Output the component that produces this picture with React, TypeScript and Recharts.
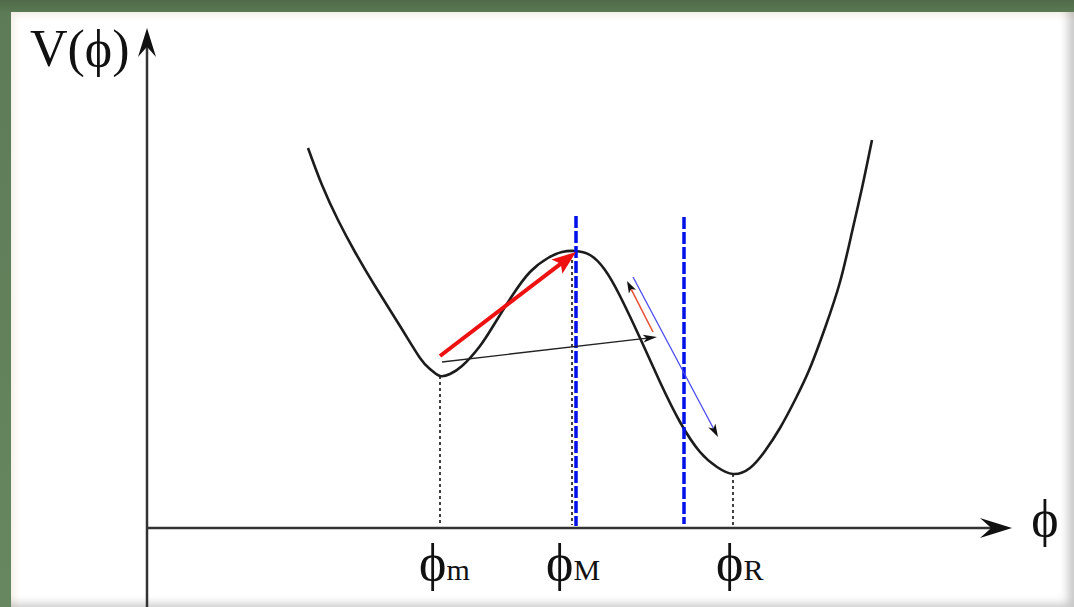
import React from 'react';
import { LineChart, Line, XAxis, YAxis, ReferenceLine, ReferenceDot } from 'recharts';

// Potential curve V(phi)
const curvePhi = [1.61, 1.75, 1.91, 2.08, 2.28, 2.53, 2.73, 2.83, 2.93, 3.03, 3.15, 3.33, 3.48, 3.65, 3.83, 4.01, 4.15, 4.28, 4.43, 4.58, 4.73, 4.93, 5.13, 5.33, 5.53, 5.7, 5.86, 6.03, 6.18, 6.33, 6.48, 6.63, 6.78, 6.93, 7.05, 7.15, 7.25];
const curveV = [3.8, 3.43, 3.08, 2.76, 2.42, 2.02, 1.7, 1.59, 1.52, 1.54, 1.62, 1.82, 2.05, 2.32, 2.56, 2.7, 2.76, 2.77, 2.73, 2.58, 2.32, 1.9, 1.46, 1.06, 0.76, 0.61, 0.54, 0.6, 0.77, 1.0, 1.28, 1.6, 2.0, 2.46, 2.96, 3.4, 3.88];

// Special field values
const phiMin = 2.93;
const phiMax = 4.25;
const phiR = 5.86;
const vMin = 1.52;
const vMax = 2.74;
const vR = 0.54;
const barrierPhi = [4.29, 5.37];
const barrierTop = [3.12, 3.11];

// Arrows: [start, end]
const redArrow = [{ x: 2.93, y: 1.72 }, { x: 4.29, y: 2.76 }];
const blackArrow = [{ x: 2.95, y: 1.66 }, { x: 5.1, y: 1.91 }];
const smallRedArrow = [{ x: 5.06, y: 1.96 }, { x: 4.8, y: 2.47 }];
const blueArrow = [{ x: 4.86, y: 2.51 }, { x: 5.71, y: 0.91 }];

const xDomain = [0, 8.65];
const yDomain = [-0.79, 5.0];

const data = curvePhi.map((p, i) => ({ phi: p, v: curveV[i] }));

const FONT = "'Liberation Serif', 'Times New Roman', 'DejaVu Serif', serif";
const PHI = '\u03D5';

type ArrowOpts = {
  color: string;
  width: number;
  headColor?: string;
  headLen?: number;
  headWidth?: number;
  notch?: number;
  dash?: string;
};

function arrowShape(o: ArrowOpts) {
  return (p: any) => {
    const x1 = Number(p.x1), y1 = Number(p.y1), x2 = Number(p.x2), y2 = Number(p.y2);
    const dx = x2 - x1, dy = y2 - y1;
    const L = Math.hypot(dx, dy) || 1;
    const ux = dx / L, uy = dy / L;
    const nx = -uy, ny = ux;
    const hl = o.headLen ?? 0;
    const hw = o.headWidth ?? 0;
    const notch = o.notch ?? 0;
    const bx = x2 - ux * hl, by = y2 - uy * hl;
    const mx = x2 - ux * hl * (1 - notch), my = y2 - uy * hl * (1 - notch);
    const pts = hl > 0
      ? `${x2},${y2} ${bx + nx * hw / 2},${by + ny * hw / 2} ${mx},${my} ${bx - nx * hw / 2},${by - ny * hw / 2}`
      : '';
    const ex = hl > 0 ? mx + ux * 1 : x2;
    const ey = hl > 0 ? my + uy * 1 : y2;
    return (
      <g>
        <line x1={x1} y1={y1} x2={ex} y2={ey} stroke={o.color} strokeWidth={o.width} strokeDasharray={o.dash} />
        {hl > 0 && <polygon points={pts} fill={o.headColor ?? o.color} stroke="none" />}
      </g>
    );
  };
}

function textShape(main: string, sub: string, anchor: 'start' | 'middle', mainSize = 52, subSize = 30) {
  return (p: any) => (
    <text x={p.cx} y={p.cy} textAnchor={anchor} fontFamily={FONT} fill="#111">
      <tspan fontSize={mainSize}>{main}</tspan>
      {sub && <tspan fontSize={subSize}>{sub}</tspan>}
    </text>
  );
}

export default function App() {
  return (
    <div
      style={{
        position: 'absolute',
        left: 0,
        top: 0,
        width: 1074,
        height: 607,
        overflow: 'hidden',
        background: 'linear-gradient(180deg, #4f6b49 0px, #5d7b57 14px, #66875f 100%)',
      }}
    >
      <div
        style={{
          position: 'absolute',
          left: 11,
          top: 12,
          width: 1063,
          height: 595,
          background: '#ffffff',
          boxShadow: 'inset -12px -9px 10px -6px rgba(0,0,0,0.22), inset 6px 6px 8px -4px rgba(230,220,200,0.6)',
        }}
      />
      <div style={{ position: 'absolute', left: 0, top: 0 }}>
        <LineChart
          width={1074}
          height={607}
          data={data}
          margin={{ top: 28, right: 62, bottom: 0, left: 147 }}
        >
          <XAxis type="number" dataKey="phi" domain={xDomain} allowDataOverflow hide />
          <YAxis type="number" domain={yDomain} allowDataOverflow hide />

          {/* axes */}
          <ReferenceLine
            ifOverflow="visible"
            segment={[{ x: 0, y: 0 }, { x: 8.65, y: 0 }]}
            shape={arrowShape({ color: '#333', width: 2.5, headLen: 32, headWidth: 20, notch: 0.35, headColor: '#111' })}
          />
          <ReferenceLine
            ifOverflow="visible"
            segment={[{ x: 0, y: -0.79 }, { x: 0, y: 5.0 }]}
            shape={arrowShape({ color: '#333', width: 2.5, headLen: 29, headWidth: 18, notch: 0.35, headColor: '#111' })}
          />

          {/* dotted projections */}
          <ReferenceLine ifOverflow="visible" segment={[{ x: phiMin, y: vMin }, { x: phiMin, y: 0.03 }]} stroke="#111" strokeWidth={1.6} strokeDasharray="3 3" />
          <ReferenceLine ifOverflow="visible" segment={[{ x: phiMax, y: vMax }, { x: phiMax, y: 0.03 }]} stroke="#111" strokeWidth={1.6} strokeDasharray="3 3" />
          <ReferenceLine ifOverflow="visible" segment={[{ x: phiR, y: vR }, { x: phiR, y: 0.03 }]} stroke="#111" strokeWidth={1.6} strokeDasharray="3 3" />

          <Line
            dataKey="v"
            type="natural"
            stroke="#1c1c1c"
            strokeWidth={2.6}
            dot={false}
            activeDot={false}
            isAnimationActive={false}
          />

          {/* blue dashed barriers */}
          <ReferenceLine ifOverflow="visible" segment={[{ x: barrierPhi[0], y: barrierTop[0] }, { x: barrierPhi[0], y: 0.02 }]} stroke="#0010e8" strokeWidth={3.5} strokeDasharray="12 3" />
          <ReferenceLine ifOverflow="visible" segment={[{ x: barrierPhi[1], y: barrierTop[1] }, { x: barrierPhi[1], y: 0.04 }]} stroke="#0010e8" strokeWidth={3.5} strokeDasharray="12 3" />

          {/* arrows */}
          <ReferenceLine ifOverflow="visible" segment={blackArrow} shape={arrowShape({ color: '#222', width: 1.4, headLen: 14, headWidth: 8, notch: 0.25, headColor: '#111' })} />
          <ReferenceLine ifOverflow="visible" segment={redArrow} shape={arrowShape({ color: '#ee1111', width: 4, headLen: 24, headWidth: 18, notch: 0.2, headColor: '#ee1111' })} />
          <ReferenceLine ifOverflow="visible" segment={smallRedArrow} shape={arrowShape({ color: '#e8553a', width: 1.6, headLen: 12, headWidth: 8, notch: 0.25, headColor: '#111' })} />
          <ReferenceLine ifOverflow="visible" segment={blueArrow} shape={arrowShape({ color: '#4a4af0', width: 1.3, headLen: 13, headWidth: 8, notch: 0.25, headColor: '#111' })} />

          {/* labels */}
          <ReferenceDot x={-1.17} y={4.62} r={0} ifOverflow="visible" shape={textShape(`V(${PHI})`, '', 'start', 52)} />
          <ReferenceDot x={8.98} y={-0.08} r={0} ifOverflow="visible" shape={textShape(PHI, '', 'middle', 52)} />
          <ReferenceDot x={2.72} y={-0.52} r={0} ifOverflow="visible" shape={textShape(PHI, 'm', 'start')} />
          <ReferenceDot x={3.99} y={-0.52} r={0} ifOverflow="visible" shape={textShape(PHI, 'M', 'start')} />
          <ReferenceDot x={5.69} y={-0.52} r={0} ifOverflow="visible" shape={textShape(PHI, 'R', 'start')} />
        </LineChart>
      </div>
    </div>
  );
}
